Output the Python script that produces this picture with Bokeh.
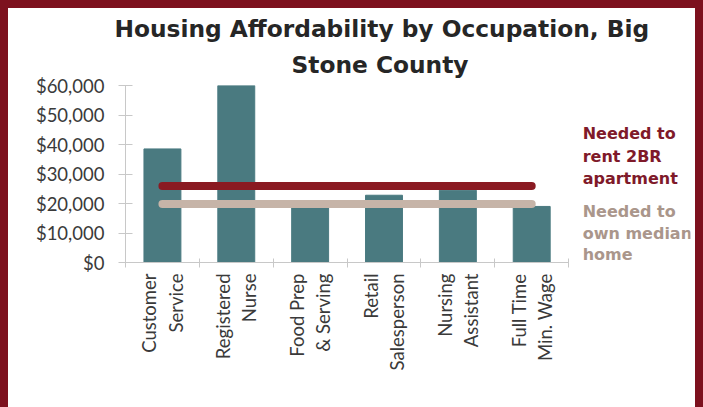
import math
from bokeh.plotting import figure
from bokeh.models import (Range1d, NumeralTickFormatter, FixedTicker, Label, Title,
                          GlobalInlineStyleSheet)
from bokeh.embed import file_html
from bokeh.resources import INLINE

# ---- data ----
occupations = ["Customer\nService", "Registered\nNurse", "Food Prep\n& Serving",
               "Retail\nSalesperson", "Nursing\nAssistant", "Full Time\nMin. Wage"]
wages = [38500, 60000, 18500, 22800, 24500, 19000]
rent_2br_needed = 25900
own_home_needed = 19800
y_ticks = [0, 10000, 20000, 30000, 40000, 50000, 60000]
rent_label = "Needed to\nrent 2BR\napartment"
own_label = "Needed to\nown median\nhome"
title_line1 = "Housing Affordability by Occupation, Big"
title_line2 = "Stone County"

# category centres / boundaries on a numeric scale
n = len(occupations)
x_centers = [i + 0.5 for i in range(n)]
x_bounds = list(range(n + 1))

BAR = "#4a7a80"
RED = "#8a1a22"
TAN = "#c6b4a8"
AXIS = "#c8c8c8"
TXT = "#3a3a3a"
MAROON = "#7d111e"

page_css = (
    "html { background: linear-gradient(#ffffff, #ffffff) no-repeat fixed "
    "center bottom / calc(100% - 16px) 8px, " + MAROON + "; }"
    " body { background: transparent; }"
)

p = figure(width=687, height=391, output_backend="svg", toolbar_location=None,
           x_range=Range1d(0, 7.65), y_range=Range1d(0, 60000),
           min_border_left=117, min_border_right=5, min_border_top=77,
           min_border_bottom=137)
p.stylesheets = [GlobalInlineStyleSheet(css=page_css)]
p.styles = {"margin-top": "8px", "margin-left": "8px", "background-color": "white"}
p.background_fill_color = "white"
p.border_fill_color = "white"
p.outline_line_color = None
p.xgrid.visible = False
p.ygrid.visible = False

title_font = dict(text_font="DejaVu Sans", text_font_size="23.3px",
                  text_font_style="bold", text_color="#262626")
p.title.text = title_line1
p.title.align = "left"
p.title.offset = -11
p.title.standoff = 0
for k, v in title_font.items():
    setattr(p.title, k, v)
t2 = Title(text=title_line2, align="left", offset=166, standoff=15, **title_font)
p.add_layout(t2, "above")

p.vbar(x=x_centers, top=wages, width=0.5, color=BAR)
p.line(x=[x_centers[0], x_centers[-1]], y=[own_home_needed] * 2, line_width=8,
       line_color=TAN, line_cap="round")
p.line(x=[x_centers[0], x_centers[-1]], y=[rent_2br_needed] * 2, line_width=8,
       line_color=RED, line_cap="round")

# y axis
ya = p.yaxis[0]
ya.ticker = FixedTicker(ticks=y_ticks)
ya.formatter = NumeralTickFormatter(format="$0,0")
ya.axis_line_color = AXIS
ya.major_tick_line_color = AXIS
ya.major_tick_in = 7
ya.major_tick_out = 7
ya.minor_tick_line_color = None
ya.major_label_text_font = "Lato"
ya.major_label_text_font_size = "18.5px"
ya.major_label_text_color = TXT
ya.major_label_standoff = 14

# x axis (category boundaries as minor ticks, names at centres)
xa = p.xaxis[0]
xa.bounds = (0, n)
xa.ticker = FixedTicker(ticks=x_centers, minor_ticks=x_bounds)
xa.major_label_overrides = {c: lab for c, lab in zip(x_centers, occupations)}
xa.major_label_orientation = math.pi / 2
xa.axis_line_color = AXIS
xa.major_tick_line_color = None
xa.major_tick_in = 0
xa.major_tick_out = 0
xa.minor_tick_line_color = AXIS
xa.minor_tick_in = 4
xa.minor_tick_out = 5
xa.major_label_text_font = "Lato"
xa.major_label_text_font_size = "18.5px"
xa.major_label_text_color = TXT
xa.major_label_standoff = 6

p.add_layout(Label(x=6.19, y=47000, text=rent_label,
                   text_font="DejaVu Sans", text_font_style="bold", text_font_size="16px",
                   text_color="#7f1a2a", text_baseline="top", text_align="left"))
p.add_layout(Label(x=6.19, y=20600, text=own_label,
                   text_font="DejaVu Sans", text_font_style="bold", text_font_size="16px",
                   text_color="#aa968b", text_baseline="top", text_align="left",
                   text_line_height=1.15))

open("out.html", "w").write(file_html(p, INLINE))
